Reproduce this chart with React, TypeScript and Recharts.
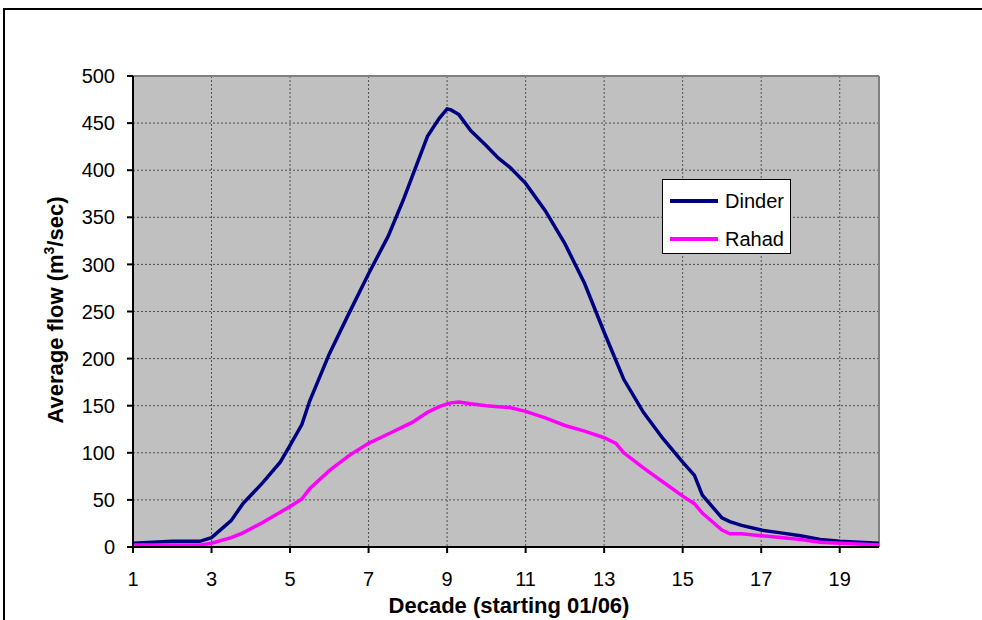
import {
  CartesianGrid,
  Label,
  Line,
  LineChart,
  ReferenceLine,
  XAxis,
  YAxis,
} from "recharts";

const decade = [
  1, 2, 2.7, 3, 3.5, 3.8, 4.3, 4.75, 5, 5.3, 5.5, 6, 6.5, 7, 7.5, 7.9, 8.1, 8.5, 8.8, 9, 9.1,
  9.3, 9.6, 10, 10.3, 10.6, 11, 11.5, 12, 12.5, 13, 13.3, 13.5, 14, 14.5, 15, 15.3, 15.5, 16,
  16.2, 16.5, 17, 17.5, 18, 18.5, 19, 20,
];
const dinder = [
  4, 6, 6, 10, 28, 46, 68, 90, 108, 130, 155, 205, 248, 290, 330, 370, 392, 436, 455, 465, 464,
  459, 442, 426, 413, 403, 386, 357, 322, 280, 228, 198, 178, 143, 115, 90, 76, 55, 31, 27, 23,
  18, 15, 12, 8, 6, 4,
];
const rahad = [
  2, 2, 2, 4, 10, 15, 26, 37, 43, 51, 62, 81, 97, 110, 120, 128, 132, 143, 149, 152, 153, 154,
  152, 150, 149, 148, 144, 137, 129, 123, 116, 110, 100, 84, 69, 54, 46, 36, 18, 14, 14, 12, 10,
  8, 5, 4, 2,
];
const xTicks = [1, 3, 5, 7, 9, 11, 13, 15, 17, 19];
const yTicks = [0, 50, 100, 150, 200, 250, 300, 350, 400, 450, 500];

const series = [
  { key: "dinder", name: "Dinder", color: "#000080" },
  { key: "rahad", name: "Rahad", color: "#FF00FF" },
];

const rows = decade.map((x, i) => ({ x, dinder: dinder[i], rahad: rahad[i] }));

const font = "Arial, 'Liberation Sans', sans-serif";

function LegendBox() {
  return (
    <div
      style={{
        position: "absolute",
        left: 662,
        top: 179,
        width: 127,
        height: 73,
        background: "#fff",
        border: "1.5px solid #000",
        fontFamily: font,
        fontSize: 20,
        color: "#000",
      }}
    >
      {series.map((s, i) => (
        <div
          key={s.key}
          style={{ position: "absolute", left: 7, top: 9 + i * 38, display: "flex", alignItems: "center" }}
        >
          <span style={{ width: 48, height: 4, background: s.color, display: "inline-block" }} />
          <span style={{ marginLeft: 7, lineHeight: "24px" }}>{s.name}</span>
        </div>
      ))}
    </div>
  );
}

export default function App() {
  return (
    <div style={{ position: "absolute", left: 0, top: 0, width: 982, height: 620, overflow: "hidden", background: "#fff" }}>
      <div
        style={{
          position: "absolute",
          left: 3,
          top: 8,
          width: 1000,
          height: 700,
          border: "2px solid #000",
        }}
      />
      <div style={{ position: "absolute", left: 0, top: 0 }}>
        <LineChart
          width={982}
          height={620}
          data={rows}
          margin={{ top: 76, right: 103, left: 53, bottom: 23 }}
          style={{ fontFamily: font }}
        >
          <CartesianGrid fill="#C0C0C0" fillOpacity={1} stroke="#505050" strokeDasharray="2 2" />
          <XAxis
            dataKey="x"
            type="number"
            domain={[1, 20]}
            ticks={xTicks}
            allowDataOverflow
            height={50}
            tickSize={6}
            tickMargin={19}
            axisLine={{ stroke: "#000", strokeWidth: 2 }}
            tickLine={{ stroke: "#000", strokeWidth: 2 }}
            tick={{ fill: "#000", fontSize: 20, fontFamily: font }}
          >
            <Label
              content={() => (
                <text x={509} y={613} textAnchor="middle" fontSize={22} fontWeight="bold" fontFamily={font} fill="#000">
                  Decade (starting 01/06)
                </text>
              )}
            />
          </XAxis>
          <YAxis
            domain={[0, 500]}
            ticks={yTicks}
            width={80}
            tickSize={6}
            tickMargin={12}
            axisLine={{ stroke: "#000", strokeWidth: 2 }}
            tickLine={{ stroke: "#000", strokeWidth: 2 }}
            tick={{ fill: "#000", fontSize: 20, fontFamily: font }}
          >
            <Label
              content={() => (
                <text
                  x={63}
                  y={310}
                  textAnchor="middle"
                  fontSize={22}
                  fontWeight="bold"
                  fontFamily={font}
                  fill="#000"
                  transform="rotate(-90, 63, 310)"
                >
                  Average flow (m<tspan fontSize={14} dy={-9}>3</tspan>
                  <tspan dy={9}>/sec)</tspan>
                </text>
              )}
            />
          </YAxis>
          <ReferenceLine y={500} stroke="#808080" strokeWidth={2} />
          <ReferenceLine x={20} stroke="#808080" strokeWidth={2} />
          {series.map((s) => (
            <Line
              key={s.key}
              dataKey={s.key}
              name={s.name}
              type="linear"
              stroke={s.color}
              strokeWidth={3.5}
              dot={false}
              activeDot={false}
              isAnimationActive={false}
            />
          ))}
        </LineChart>
      </div>
      <LegendBox />
    </div>
  );
}
